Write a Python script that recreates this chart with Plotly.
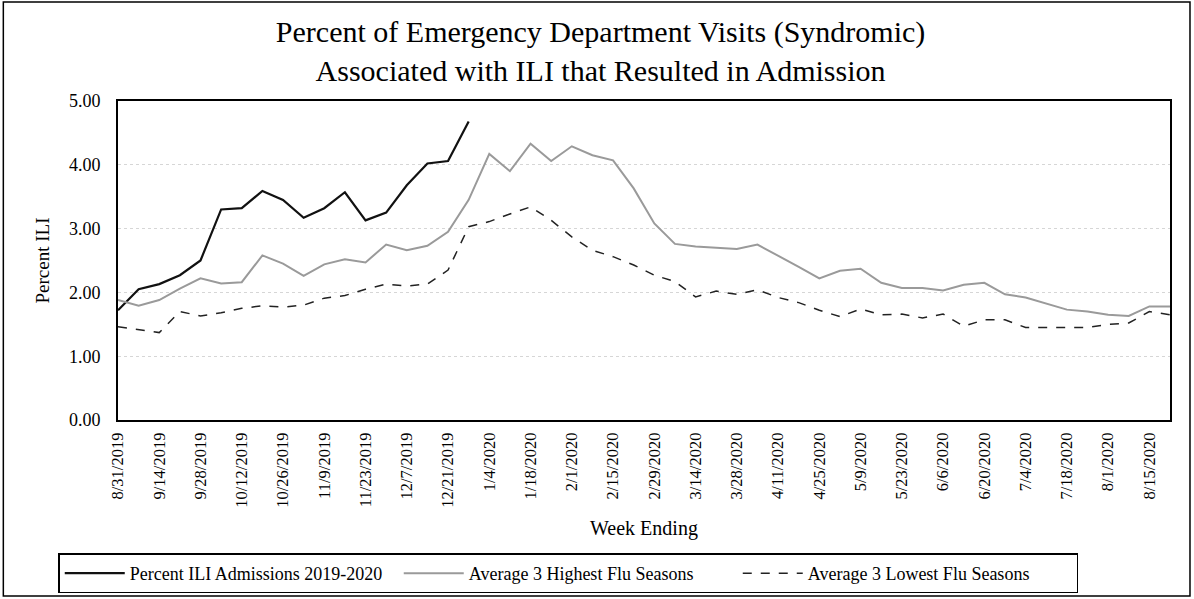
import plotly.graph_objects as go
import pandas as pd

weeks = [d.strftime("%-m/%-d/%Y") for d in pd.date_range("2019-08-31", periods=52, freq="7D")]

current = [1.72, 2.05, 2.13, 2.27, 2.50, 3.30, 3.32, 3.59, 3.45, 3.17, 3.32, 3.57,
           3.13, 3.25, 3.68, 4.02, 4.06, 4.68]

highest = [1.88, 1.79, 1.88, 2.06, 2.22, 2.14, 2.16, 2.58, 2.45, 2.26, 2.44, 2.52,
           2.47, 2.75, 2.66, 2.73, 2.95, 3.45, 4.17, 3.90, 4.33, 4.06, 4.29, 4.15,
           4.07, 3.63, 3.08, 2.76, 2.72, 2.70, 2.68, 2.75, 2.58, 2.40, 2.22, 2.34,
           2.37, 2.15, 2.07, 2.07, 2.03, 2.12, 2.15, 1.97, 1.92, 1.83, 1.73, 1.70,
           1.65, 1.63, 1.78, 1.78]

lowest = [1.46, 1.42, 1.37, 1.70, 1.63, 1.68, 1.75, 1.79, 1.77, 1.80, 1.91, 1.95,
          2.05, 2.13, 2.10, 2.13, 2.35, 3.03, 3.11, 3.23, 3.34, 3.13, 2.87, 2.66,
          2.56, 2.43, 2.27, 2.17, 1.93, 2.02, 1.97, 2.04, 1.92, 1.84, 1.72, 1.62,
          1.74, 1.65, 1.66, 1.60, 1.66, 1.47, 1.57, 1.57, 1.45, 1.45, 1.45, 1.45,
          1.50, 1.52, 1.70, 1.65]

tick_labels = weeks[::2]
y_ticks = [0, 1, 2, 3, 4, 5]

FONT = "Liberation Serif, Times New Roman, serif"

fig = go.Figure()
fig.add_trace(go.Scatter(x=weeks[:len(current)], y=current, mode="lines",
                         name="Percent ILI Admissions 2019-2020",
                         line=dict(color="#111111", width=2.2)))
fig.add_trace(go.Scatter(x=weeks, y=highest, mode="lines",
                         name="Average 3 Highest Flu Seasons",
                         line=dict(color="#9a9a9a", width=2)))
fig.add_trace(go.Scatter(x=weeks, y=lowest, mode="lines",
                         name="Average 3 Lowest Flu Seasons",
                         line=dict(color="#222222", width=1.5, dash="dash")))

fig.update_layout(
    width=1194, height=599,
    margin=dict(l=118, r=24, t=101, b=179, autoexpand=False),
    paper_bgcolor="white", plot_bgcolor="white",
    font=dict(family=FONT, color="black", size=16),
    title=dict(text="Percent of Emergency Department Visits (Syndromic)<br>Associated with ILI that Resulted in Admission",
               x=0.503, xanchor="center", y=0.93, yanchor="middle",
               font=dict(family=FONT, size=30, color="black")),
    showlegend=True,
    legend=dict(orientation="h", x=0.428, xanchor="center", y=-0.481, yanchor="middle",
                bordercolor="black", borderwidth=1.5, bgcolor="white",
                font=dict(family=FONT, size=18), entrywidth=264, itemwidth=60,
                traceorder="normal"),
    xaxis=dict(type="category", categoryorder="array", categoryarray=weeks,
               range=[0, len(weeks) - 1],
               tickmode="array", tickvals=tick_labels, ticktext=tick_labels,
               tickangle=-90, tickfont=dict(family=FONT, size=16.5),
               showline=True, linecolor="black", linewidth=2, mirror=True,
               showgrid=False, ticks="", ticklabelstandoff=4,
               title=dict(text="Week Ending", font=dict(family=FONT, size=20), standoff=14)),
    yaxis=dict(range=[0, 5], tickvals=y_ticks, tickformat=".2f",
               tickfont=dict(family=FONT, size=18), ticklabelstandoff=12,
               showline=True, linecolor="black", linewidth=2, mirror=True,
               showgrid=True, gridcolor="#d6d6d6", griddash="dot", gridwidth=1,
               zeroline=False, ticks="",
               title=dict(text="Percent ILI", font=dict(family=FONT, size=19), standoff=14)),
)

fig.add_shape(type="rect", xref="paper", yref="paper",
              x0=-0.109, x1=1.019, y0=-0.552, y1=1.31,
              line=dict(color="black", width=1.5), layer="below")

fig.write_html("out.html", config={"displayModeBar": False},
               post_script="document.body.style.margin='0';document.body.style.overflow='hidden';")
